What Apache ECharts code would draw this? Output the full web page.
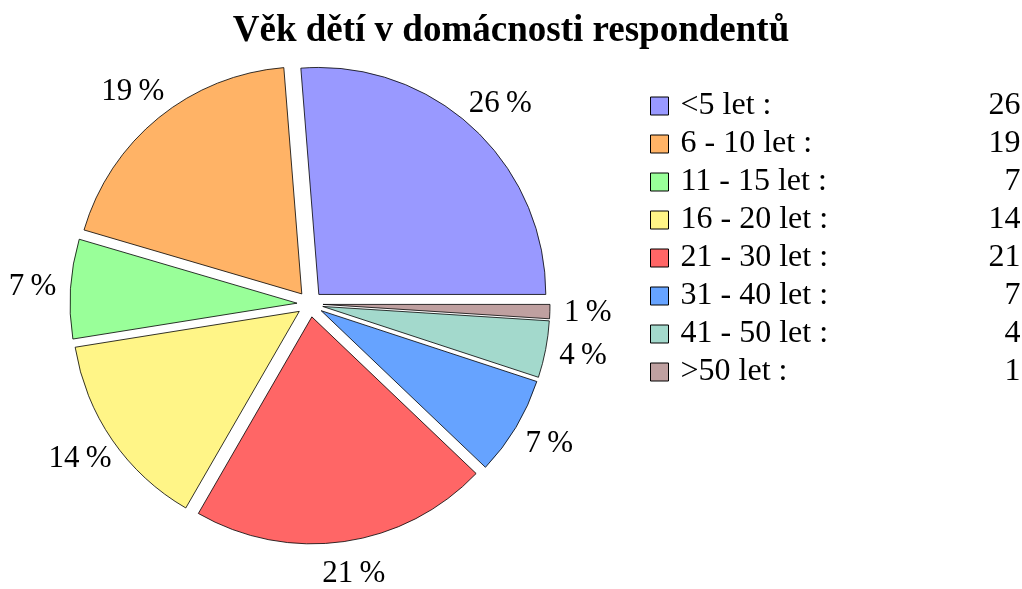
<!DOCTYPE html>
<html>
<head>
<meta charset="utf-8">
<title>Věk dětí v domácnosti respondentů</title>
<script src="https://cdn.jsdelivr.net/npm/echarts@6/dist/echarts.min.js"></script>
<style>
  html, body { margin: 0; padding: 0; background: #fff; }
  #chart { width: 1022px; height: 589px; }
</style>
</head>
<body>
<div id="chart"></div>
<script>
const categories = ['<5 let', '6 - 10 let', '11 - 15 let', '16 - 20 let', '21 - 30 let', '31 - 40 let', '41 - 50 let', '>50 let'];
const values = [26, 19, 7, 14, 21, 7, 4, 1];
const colors = ['#9999ff', '#ffb366', '#99ff99', '#fff587', '#ff6666', '#66a3ff', '#a3d9cc', '#bfa0a0'];

const FONT = '"Liberation Serif", "Times New Roman", serif';

const chart = echarts.init(document.getElementById('chart'));

const pieData = categories.map((name, i) => ({
  name: name,
  value: values[i],
  selected: true,
  itemStyle: { color: colors[i] }
}));

chart.setOption({
  animation: false,
  title: {
    text: 'Věk dětí v domácnosti respondentů',
    left: 'center',
    top: 8,
    textStyle: {
      fontFamily: FONT,
      fontWeight: 'bold',
      fontSize: 37,
      color: '#000'
    }
  },
  legend: {
    orient: 'vertical',
    left: 650,
    top: 90,
    padding: 0,
    itemWidth: 18,
    itemHeight: 18,
    itemGap: 6,
    selectedMode: false,
    icon: 'rect',
    itemStyle: { borderColor: '#000', borderWidth: 1 },
    data: categories,
    formatter: function (name) {
      const i = categories.indexOf(name);
      return '{n|' + name + ' :}{v|' + values[i] + '}';
    },
    textStyle: {
      fontFamily: FONT,
      fontSize: 32,
      color: '#000',
      rich: {
        n: { fontFamily: FONT, fontSize: 32, color: '#000', width: 290, padding: [0, 0, 0, 7] },
        v: { fontFamily: FONT, fontSize: 32, color: '#000', width: 50, align: 'right' }
      }
    }
  },
  series: [{
    type: 'pie',
    center: [310, 304],
    radius: 227,
    startAngle: 0,
    clockwise: false,
    selectedMode: 'multiple',
    selectedOffset: 13,
    avoidLabelOverlap: false,
    itemStyle: { borderColor: '#000', borderWidth: 0.8 },
    emphasis: { disabled: true },
    label: {
      show: true,
      position: 'outside',
      fontFamily: FONT,
      fontSize: 31,
      color: '#000',
      formatter: function (p) { return p.value + '\u2009%'; }
    },
    labelLine: { show: false, length: 33, length2: 0 },
    labelLayout: { align: 'center', verticalAlign: 'middle' },
    data: pieData
  }]
});
</script>
</body>
</html>
